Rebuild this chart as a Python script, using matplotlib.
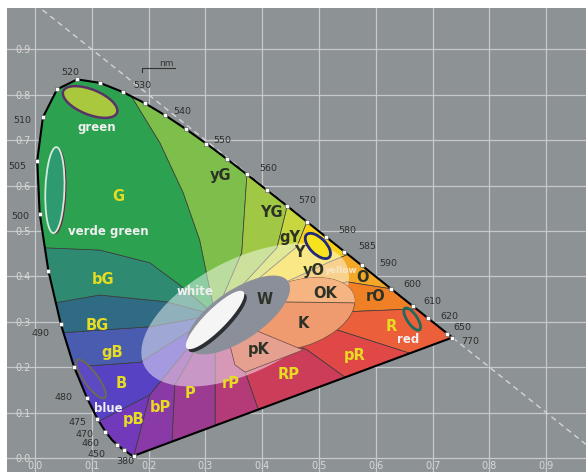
import numpy as np
import matplotlib
matplotlib.use("Agg")
import matplotlib.pyplot as plt
from matplotlib import transforms
from matplotlib.patches import Polygon, Ellipse

plt.rcParams['font.family'] = ['DejaVu Sans Condensed', 'Liberation Sans Narrow', 'DejaVu Sans']

# CIE 1931 spectral locus
wavelengths = [380, 385, 390, 395, 400, 405, 410, 415, 420, 425, 430, 435, 440, 445, 450,
               455, 460, 465, 470, 475, 480, 485, 490, 495, 500,
               505, 510, 515, 520, 525, 530, 535, 540, 545, 550,
               555, 560, 565, 570, 575, 580, 585, 590, 595, 600,
               605, 610, 615, 620, 625, 630, 635, 640, 645, 650,
               655, 660, 665, 670, 675, 680, 770]
locus_x = [0.1741, 0.1740, 0.1738, 0.1736, 0.1733, 0.1730, 0.1726, 0.1721, 0.1714, 0.1703, 0.1689, 0.1669, 0.1644, 0.1611, 0.1566,
           0.1510, 0.1440, 0.1355, 0.1241, 0.1096, 0.0913, 0.0687, 0.0454, 0.0235, 0.0082,
           0.0039, 0.0139, 0.0389, 0.0743, 0.1142, 0.1547, 0.1929, 0.2296, 0.2658, 0.3016,
           0.3373, 0.3731, 0.4087, 0.4441, 0.4788, 0.5125, 0.5448, 0.5752, 0.6029, 0.6270,
           0.6482, 0.6658, 0.6801, 0.6915, 0.7006, 0.7079, 0.7140, 0.7190, 0.7230, 0.7260,
           0.7283, 0.7300, 0.7311, 0.7320, 0.7327, 0.7334, 0.7347]
locus_y = [0.0050, 0.0050, 0.0049, 0.0049, 0.0048, 0.0048, 0.0048, 0.0048, 0.0051, 0.0058, 0.0069, 0.0086, 0.0109, 0.0138, 0.0177,
           0.0227, 0.0297, 0.0399, 0.0578, 0.0868, 0.1327, 0.2007, 0.2950, 0.4127, 0.5384,
           0.6548, 0.7502, 0.8120, 0.8338, 0.8262, 0.8059, 0.7816, 0.7543, 0.7243, 0.6923,
           0.6589, 0.6245, 0.5896, 0.5547, 0.5202, 0.4866, 0.4544, 0.4242, 0.3965, 0.3725,
           0.3514, 0.3340, 0.3197, 0.3083, 0.2993, 0.2920, 0.2859, 0.2809, 0.2770, 0.2740,
           0.2717, 0.2700, 0.2689, 0.2680, 0.2673, 0.2666, 0.2653]

marked_nm = [380, 450, 460, 470, 475, 480, 485, 490, 495, 500, 505, 510, 515, 520, 525, 530, 535,
             540, 545, 550, 555, 560, 565, 570, 575, 580, 585, 590, 600, 610, 620, 650, 770]
labelled_nm = [380, 450, 460, 470, 475, 480, 490, 500, 505, 510, 520, 530, 540, 550, 560,
               570, 580, 585, 590, 600, 610, 620, 650, 770]

# colour-name regions: boundaries run from the locus / purple line to the hub
hub = (0.317, 0.315)
boundary_anchor = [('nm', 380), ('nm', 474), ('nm', 485), ('nm', 489), ('nm', 492), ('nm', 497),
                   ('nm', 532), ('nm', 560), ('nm', 570), ('nm', 575), ('nm', 586), ('nm', 600),
                   ('nm', 612), ('purple', 0.660), ('purple', 0.546), ('purple', 0.393),
                   ('purple', 0.317), ('purple', 0.241)]
boundary_inner = [[(0.202, 0.139)],
                  [(0.202, 0.139)],
                  [(0.185, 0.211)],
                  [(0.202, 0.289)],
                  [(0.114, 0.359), (0.232, 0.344)],
                  [(0.114, 0.458), (0.202, 0.430), (0.255, 0.381)],
                  [(0.220, 0.694), (0.261, 0.584), (0.290, 0.480)],
                  [(0.364, 0.452)],
                  [(0.426, 0.463)],
                  [(0.461, 0.465)],
                  [(0.519, 0.432)],
                  [(0.549, 0.388)],
                  [(0.546, 0.322)],
                  [(0.532, 0.282)],
                  [(0.479, 0.238)],
                  [(0.370, 0.189)],
                  [(0.317, 0.194)],
                  [(0.246, 0.161)]]
region_names = ['pB', 'B', 'gB', 'BG', 'bG', 'G', 'yG', 'YG', 'gY', 'Y', 'O', 'rO',
                'R', 'pR', 'RP', 'rP', 'P', 'bP']
region_colors = ['#7339bb', '#5742c4', '#4a5cb0', '#2f6b82', '#2f8a72', '#2ca250', '#7dbf4a',
                 '#a0c845', '#c8d640', '#f7d21b', '#f3a927', '#ef8026', '#ec5f3b', '#e04848',
                 '#cc3d5a', '#b43b78', '#9b3b92', '#8a3aa6']

# central areas
ok_x = [0.326, 0.607, 0.607, 0.414]
ok_y = [0.458, 0.458, 0.341, 0.344]
pk_x = [0.340, 0.379, 0.472, 0.370, 0.352]
pk_y = [0.264, 0.286, 0.238, 0.189, 0.205]

# ellipses: name, centre x, centre y, width (in), height (in), angle
ellipse_name = ['pale', 'K', 'W', 'white', 'green', 'verde', 'blue', 'yellow', 'red']
ellipse_cx = [0.370, 0.461, 0.358, 0.317, 0.097, 0.035, 0.0986, 0.498, 0.664]
ellipse_cy = [0.315, 0.317, 0.315, 0.304, 0.784, 0.590, 0.174, 0.467, 0.306]
ellipse_w = [2.26, 1.20, 1.20, 0.80, 0.58, 0.86, 0.47, 0.32, 0.26]
ellipse_h = [1.12, 0.66, 0.50, 0.21, 0.25, 0.19, 0.14, 0.16, 0.10]
ellipse_ang = [27, 18, 34, 45, -22, 88, -54, -45, -56]

text_labels = ['G', 'bG', 'BG', 'gB', 'B', 'pB', 'bP', 'P', 'rP', 'RP', 'pR', 'R',
               'yG', 'YG', 'gY', 'Y', 'yO', 'O', 'rO', 'OK', 'W', 'K', 'pK',
               'green', 'verde green', 'white', 'blue', 'red', 'yellow']
text_x = [0.146, 0.120, 0.109, 0.136, 0.151, 0.174, 0.220, 0.273, 0.345, 0.447, 0.562, 0.627,
          0.326, 0.417, 0.449, 0.466, 0.490, 0.576, 0.599, 0.511, 0.405, 0.472, 0.393,
          0.109, 0.129, 0.282, 0.129, 0.657, 0.540]
text_y = [0.575, 0.394, 0.291, 0.233, 0.163, 0.084, 0.112, 0.143, 0.165, 0.183, 0.225, 0.289,
          0.623, 0.540, 0.485, 0.452, 0.414, 0.397, 0.355, 0.363, 0.348, 0.297, 0.238,
          0.727, 0.498, 0.366, 0.110, 0.260, 0.414]
text_kind = ['y'] * 12 + ['d'] * 11 + ['w'] * 5 + ['p']

nm_offsets = {380: (-6.5, -4.3), 450: (-20, -3), 460: (-19, 1), 470: (-14.8, -2), 475: (-14.5, -2.5),
              480: (-17, 0), 490: (-14.3, -6.5), 500: (-14, -2.5), 505: (-14, -4), 510: (-15, -2.6),
              520: (-5, 4.7), 530: (13.7, 4.4), 540: (12, 3.2), 550: (11.3, 2), 560: (15.2, 4),
              570: (14.3, 3.7), 580: (15, 4.4), 585: (16.3, 3.4), 590: (19, 1), 600: (15, 3.5),
              610: (13.5, 3.2), 620: (15.3, 1.4), 650: (10.5, 4.7), 770: (12.7, -2.5)}

fig = plt.figure(figsize=(5.86, 4.72), dpi=100, facecolor='white')
ax = fig.add_axes([7 / 586, 0, 579 / 586, 464 / 472])
ax.set_facecolor('#8d9295')
ax.set_xlim(-0.0493, 0.970)
ax.set_ylim(-0.0308, 0.991)
for sp in ax.spines.values():
    sp.set_visible(False)

ticks = np.arange(10) / 10
ax.set_xticks(ticks)
ax.set_yticks(ticks)
ax.set_xticklabels(['%.1f' % t for t in ticks])
ax.set_yticklabels(['%.1f' % t for t in ticks])
ax.tick_params(axis='both', length=0, labelcolor='#d9d9d9', labelsize=7)
ax.tick_params(axis='x', pad=-8)
ax.tick_params(axis='y', pad=-17)
ax.grid(color='#c6c9cb', lw=0.9)
ax.set_axisbelow(True)

ax.plot([0, 1], [1, 0], ls=(0, (4, 3)), color='#d4d4d4', lw=1, zorder=1.5)

x_start, y_start = locus_x[0], locus_y[0]
x_end, y_end = locus_x[-1], locus_y[-1]


def anchor_s(anchor):
    kind, v = anchor
    if kind == 'nm':
        return v
    return 770 + 100 * (x_end - v) / (x_end - x_start)


def perim_xy(s):
    if s <= 770:
        return np.interp(s, wavelengths, locus_x), np.interp(s, wavelengths, locus_y)
    t = (s - 770) / 100.0
    return x_end + t * (x_start - x_end), y_end + t * (y_start - y_end)


clip = Polygon(list(zip(locus_x, locus_y)), closed=True, transform=ax.transData)

s_list = [anchor_s(a) for a in boundary_anchor]
n = len(s_list)
for i in range(n):
    s1 = s_list[i]
    s2 = s_list[(i + 1) % n]
    if s2 <= s1:
        s2 += 490
    pts = [perim_xy(s1)]
    pts += [(x, y) for w, x, y in zip(wavelengths, locus_x, locus_y) if s1 < w < s2]
    pts.append(perim_xy(s2))
    pts += boundary_inner[(i + 1) % n]
    pts.append(hub)
    pts += boundary_inner[i][::-1]
    poly = Polygon(pts, closed=True, fc=region_colors[i], ec='#3a3a3a', lw=0.5, zorder=2)
    ax.add_patch(poly)
    poly.set_clip_path(clip)


def ellipse_at(k, dx=0.0, dy=0.0, **kw):
    tr = fig.dpi_scale_trans + transforms.ScaledTranslation(ellipse_cx[k], ellipse_cy[k], ax.transData)
    e = Ellipse((dx, dy), ellipse_w[k], ellipse_h[k], angle=ellipse_ang[k], transform=tr, **kw)
    ax.add_patch(e)
    return e


idx = {name: k for k, name in enumerate(ellipse_name)}

pale = ellipse_at(idx['pale'], fc='white', alpha=0.47, ec='none', zorder=3)
pale.set_clip_path(clip)
kell = ellipse_at(idx['K'], fc='#f09a70', ec='#6a4a3a', lw=0.5, zorder=4)
okp = Polygon(list(zip(ok_x, ok_y)), closed=True, fc='#f5b482', ec='#5a4a3a', lw=0.6, zorder=4.1)
ax.add_patch(okp)
okp.set_clip_path(kell)
pkp = Polygon(list(zip(pk_x, pk_y)), closed=True, fc='#e6a090', ec='#6a4a4a', lw=0.5, zorder=4.2)
ax.add_patch(pkp)
ellipse_at(idx['W'], fc='#8a8f99', ec='none', zorder=5)
ellipse_at(idx['white'], dx=0.025, dy=-0.03, fc='#2b2f33', ec='none', zorder=6)
ellipse_at(idx['white'], fc='#f5f5f5', ec='none', zorder=6.1)

ellipse_at(idx['green'], fc='#a9c83e', ec='#5b3268', lw=1.8, zorder=5)
ellipse_at(idx['verde'], dx=0.02, dy=-0.01, fc='#6a2a42', ec='none', zorder=5)
ellipse_at(idx['verde'], fc='#2d9a70', ec='#d2eadc', lw=1.3, zorder=5.1)
ellipse_at(idx['blue'], fc='#5b4ac2', ec='#6e6c4e', lw=1.3, zorder=5)
ellipse_at(idx['yellow'], fc='#f7e21e', ec='#1f2a7a', lw=2, zorder=5)
ellipse_at(idx['red'], fc='none', ec='#1d6b5c', lw=2, zorder=5)

# locus outline and purple line
ax.plot(locus_x + [x_start], locus_y + [y_start], color='black', lw=1.5, zorder=7)

mx = [np.interp(w, wavelengths, locus_x) for w in marked_nm]
my = [np.interp(w, wavelengths, locus_y) for w in marked_nm]
ax.plot(mx, my, ls='none', marker='s', ms=3.4, mfc='white', mec='#555555', mew=0.4, zorder=8)

for w in labelled_nm:
    px = np.interp(w, wavelengths, locus_x)
    py = np.interp(w, wavelengths, locus_y)
    ax.annotate(str(w), (px, py), xytext=nm_offsets[w], textcoords='offset points',
                ha='center', va='center', fontsize=6.8, color='#2e2e2e', zorder=9)

ax.plot([0.188, 0.188, 0.246], [0.851, 0.859, 0.859], color='#333333', lw=0.8, zorder=7)
ax.text(0.232, 0.868, 'nm', fontsize=6.5, color='#333333', ha='center', va='center')

styles = {'y': dict(color='#e6dc22', fontsize=10.5, fontweight='bold'),
          'd': dict(color='#2c3326', fontsize=10.5, fontweight='bold'),
          'w': dict(color='#f0f0f0', fontsize=8.5, fontweight='bold'),
          'p': dict(color='#f8e6c8', fontsize=6.5, fontweight='bold')}
for s, x, y, k in zip(text_labels, text_x, text_y, text_kind):
    ax.text(x, y, s, ha='center', va='center', zorder=10, **styles[k])

fig.savefig('out.png', dpi=100, facecolor='white')
